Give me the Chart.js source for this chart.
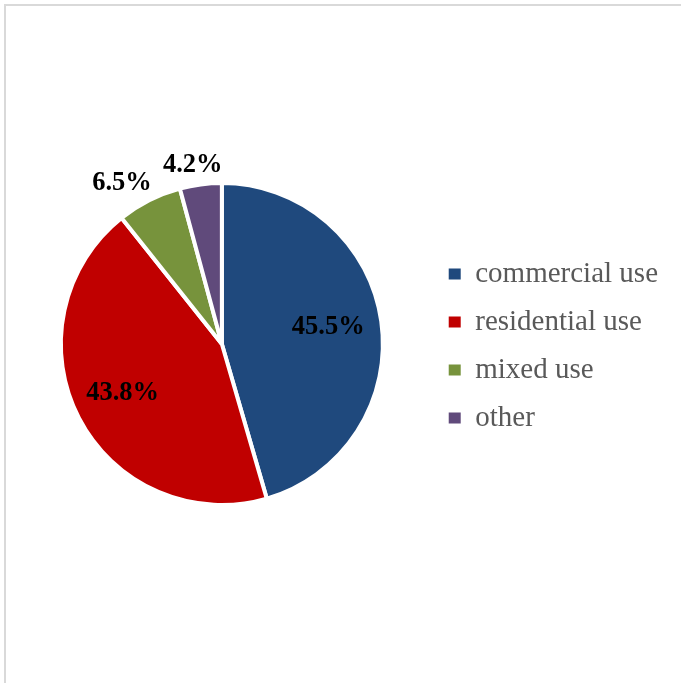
<!DOCTYPE html>
<html>
<head>
<meta charset="utf-8">
<script src="https://cdn.jsdelivr.net/npm/chart.js@4"></script>
<style>
html, body { margin: 0; padding: 0; background: #fff; overflow: hidden; }
#frame { position: absolute; left: 4px; top: 4px; width: 700px; height: 700px; border-left: 2px solid #d9d9d9; border-top: 2px solid #d9d9d9; }
#chart { position: absolute; left: 0; top: 0; }
</style>
</head>
<body>
<div id="frame"></div>
<canvas id="chart" width="681" height="683"></canvas>
<script>
// Chart data
const categories = ["commercial use", "residential use", "mixed use", "other"];
const shares = [45.5, 43.8, 6.5, 4.2];
const sliceColors = ["#1F497D", "#C00000", "#77933C", "#604A7B"];

const serif = "'Liberation Serif', 'Times New Roman', serif";

// Percent labels: inside big slices, outside small ones (Excel-like placement)
const percentLabels = {
  id: "percentLabels",
  afterDatasetsDraw(chart) {
    const ctx = chart.ctx;
    const meta = chart.getDatasetMeta(0);
    const size = 26.5;
    ctx.save();
    ctx.font = "bold " + size + "px " + serif;
    ctx.fillStyle = "#000";
    ctx.textAlign = "center";
    ctx.textBaseline = "alphabetic";
    const h = size * 0.66; // digit height
    meta.data.forEach((arc, i) => {
      const { x, y, startAngle, endAngle, outerRadius } = arc.getProps(["x", "y", "startAngle", "endAngle", "outerRadius"], true);
      const text = shares[i].toFixed(1) + "%";
      const w = ctx.measureText(text).width;
      const mid = (startAngle + endAngle) / 2;
      const dx = Math.cos(mid), dy = Math.sin(mid);
      let cx, cy;
      if (shares[i] < 10) {
        const r = outerRadius + 12.5;
        cx = x + dx * r + 1.6 * dx * w / 2;
        cy = y + dy * r + dy * h / 2;
      } else {
        const r = outerRadius * 0.68;
        cx = x + dx * r - 2;
        cy = y + dy * r - 3;
      }
      ctx.fillText(text, cx, cy + h / 2);
    });
    ctx.restore();
  }
};

new Chart(document.getElementById("chart").getContext("2d"), {
  type: "pie",
  data: {
    labels: categories,
    datasets: [{ data: shares, backgroundColor: sliceColors, borderColor: "#fff", borderWidth: 4 }]
  },
  options: {
    responsive: false,
    animation: false,
    radius: 161,
    layout: { padding: { left: 14, right: 13, top: 100, bottom: 95 } },
    plugins: {
      legend: {
        position: "right",
        title: { display: true, text: "", padding: 0, font: { size: 4, lineHeight: 1 } },
        labels: {
          boxWidth: 12,
          boxHeight: 11,
          padding: 19,
          color: "#595959",
          font: { family: serif, size: 29 },
          generateLabels(chart) {
            // plain squares, without the white slice border
            return Chart.overrides.pie.plugins.legend.labels.generateLabels(chart)
              .map((item) => ({ ...item, lineWidth: 0 }));
          }
        }
      },
      tooltip: { enabled: false }
    }
  },
  plugins: [percentLabels]
});
</script>
</body>
</html>
